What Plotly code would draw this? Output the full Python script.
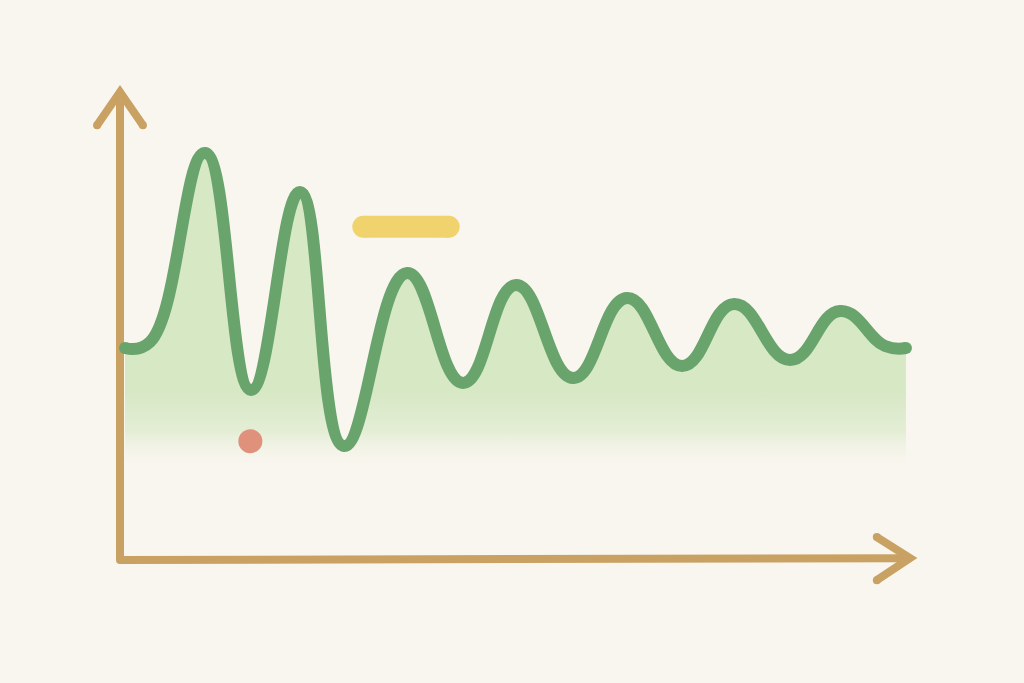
import plotly.graph_objects as go

# wave readings: turning points of the curve
# (data units: x 0..10 along the horizontal axis, y 0..10 up the vertical axis)
wave_x = [0.063, 0.380, 1.076, 1.658, 2.278, 2.835, 3.633, 4.342, 5.013, 5.734,
          6.418, 7.114, 7.772, 8.481, 9.114, 9.684, 9.949]
wave_y = [4.530, 4.658, 8.697, 3.632, 7.863, 2.436, 6.132, 3.782, 5.876, 3.889,
          5.598, 4.145, 5.470, 4.274, 5.321, 4.573, 4.530]

bar_x = [3.08, 4.16]
bar_y = [7.12, 7.12]

dot_x = [1.65]
dot_y = [2.54]

BG = "#f9f6ef"
AXIS = "#c9a162"
GREEN = "#68a46b"
FILL = "rgba(215,232,197,1)"
YELLOW = "#f0d36c"
RED = "#e0917c"

fig = go.Figure()

fig.add_trace(go.Scatter(
    x=wave_x, y=wave_y, mode="lines",
    line=dict(color=GREEN, width=12, shape="spline", smoothing=1.3, simplify=False),
    fill="tozeroy",
    fillgradient=dict(type="vertical", start=1.9, stop=3.6,
                      colorscale=[[0, "rgba(249,246,239,0)"],
                                  [0.5, "rgba(222,235,206,0.8)"],
                                  [1, FILL]]),
    hoverinfo="skip",
))
fig.add_trace(go.Scatter(
    x=[wave_x[0], wave_x[-1]], y=[wave_y[0], wave_y[-1]], mode="markers",
    marker=dict(color=GREEN, size=12, line=dict(width=0)), hoverinfo="skip",
))

fig.add_trace(go.Scatter(
    x=bar_x, y=bar_y, mode="lines+markers",
    line=dict(color=YELLOW, width=22),
    marker=dict(color=YELLOW, size=22, line=dict(width=0)), hoverinfo="skip",
))

fig.add_trace(go.Scatter(
    x=dot_x, y=dot_y, mode="markers",
    marker=dict(color=RED, size=24, line=dict(width=0)), hoverinfo="skip",
))

# axes with arrowheads
ax_w = 8
shapes = [
    dict(type="line", x0=0, y0=0, x1=0, y1=10),
    dict(type="line", x0=0, y0=0, x1=10, y1=0.04),
    dict(type="path", path="M -0.29,9.29 L 0,10 L 0.29,9.29"),
    dict(type="path", path="M 9.58,0.49 L 10,0.04 L 9.58,-0.43"),
]
for s in shapes:
    s.update(xref="x", yref="y", line=dict(color=AXIS, width=ax_w), layer="below")
fig.update_layout(shapes=shapes)

# round caps for the axis strokes
cap_x = [0, -0.29, 0.29, 9.58, 9.58]
cap_y = [0, 9.29, 9.29, 0.49, -0.43]
fig.add_trace(go.Scatter(x=cap_x, y=cap_y, mode="markers",
                         marker=dict(color=AXIS, size=ax_w, line=dict(width=0)),
                         hoverinfo="skip"))

fig.update_layout(
    width=1024, height=683,
    margin=dict(l=0, r=0, t=0, b=0),
    paper_bgcolor=BG, plot_bgcolor=BG,
    showlegend=False,
    xaxis=dict(range=[-1.519, 11.443], visible=False, fixedrange=True),
    yaxis=dict(range=[-2.628, 11.966], visible=False, fixedrange=True),
)

fig.write_html(
    "out.html",
    config={"displayModeBar": False},
    post_script="document.body.style.margin='0';document.body.style.background='%s';" % BG,
)
